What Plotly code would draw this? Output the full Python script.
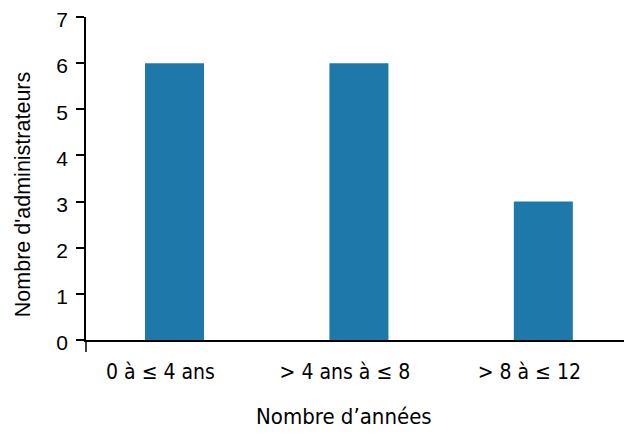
import plotly.graph_objects as go

categories = ["0 à ≤ 4 ans", "> 4 ans à ≤ 8", "> 8 à ≤ 12"]
values = [6, 6, 3]
y_ticks = [0, 1, 2, 3, 4, 5, 6, 7]
x_title = "Nombre d’années"
y_title = "Nombre d'administrateurs"

narrow = "Liberation Sans Narrow, DejaVu Sans Condensed, Roboto Condensed, Roboto, sans-serif"

fig = go.Figure(go.Bar(x=categories, y=values, marker_color="#1f78aa",
                       marker_line_width=0))

fig.update_layout(
    width=624, height=429,
    margin=dict(l=78, r=2, t=9, b=97),
    paper_bgcolor="white", plot_bgcolor="white",
    bargap=0.68,
    showlegend=False,
)
fig.update_xaxes(
    type="category", range=[-0.48, 2.47], automargin=False,
    showline=True, linecolor="black", linewidth=1.5,
    ticks="", showgrid=False,
    tickfont=dict(family=narrow, size=21, color="black"),
    ticklabelshift=-14, ticklabelstandoff=12,
)
fig.update_yaxes(
    range=[0, 7], tickvals=y_ticks, automargin=False,
    showline=True, linecolor="black", linewidth=1.5,
    ticks="outside", ticklen=8, tickwidth=1.5, tickcolor="black",
    showgrid=False, zeroline=False, ticklabelstandoff=4,
    ticklabelshift=3, ticklabeloverflow="allow",
    tickfont=dict(family="Liberation Sans, Arial, sans-serif", size=21, color="black"),
)
fig.add_shape(type="line", xref="paper", yref="paper", x0=0, x1=0, y0=0, y1=-0.037,
              line=dict(color="black", width=1.5))
fig.add_annotation(text=x_title, xref="paper", yref="paper", x=0.474, y=-0.238,
                   showarrow=False, xanchor="center", yanchor="middle",
                   font=dict(family=narrow, size=22, color="black"))
fig.add_annotation(text=y_title, xref="paper", yref="paper", x=-0.116, y=0.451,
                   showarrow=False, textangle=-90, xanchor="center", yanchor="middle",
                   font=dict(family="Liberation Sans, Arial, sans-serif", size=21.5, color="black"))

fig.write_html("out.html")
